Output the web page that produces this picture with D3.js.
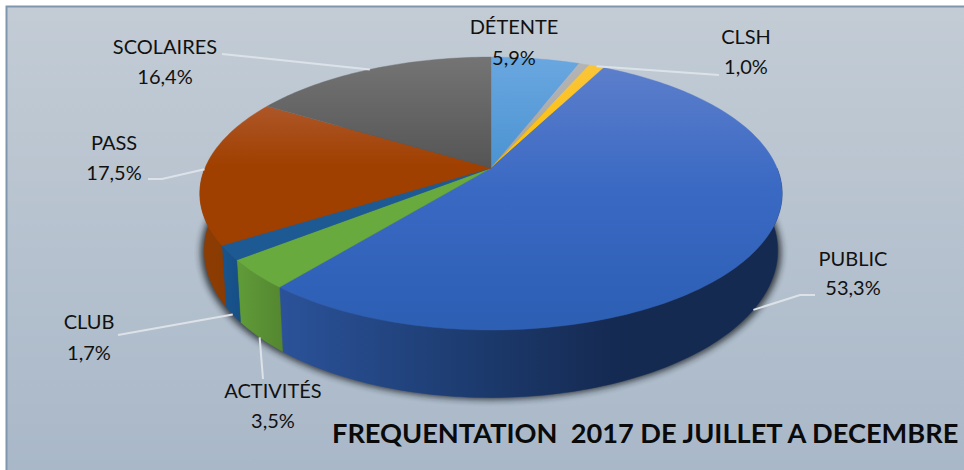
<!DOCTYPE html>
<html><head><meta charset="utf-8">
<style>html,body{margin:0;padding:0;background:#fff}svg{display:block}text{font-family:Lato,"Open Sans",sans-serif;fill:#111}</style>
<script src="https://cdn.jsdelivr.net/npm/d3@7/dist/d3.min.js"></script>
</head><body><svg id="c" width="964" height="470"></svg>
<script>
const categories=["DÉTENTE","AUTRE","CLSH","PUBLIC","ACTIVITÉS","CLUB","PASS","SCOLAIRES"];
const values=[5.9,0.7,1.0,53.3,3.5,1.7,17.5,16.4];
const valueLabels=["5,9%","","1,0%","53,3%","3,5%","1,7%","17,5%","16,4%"];
const topColors=[["#6aa7e0","#4a93d2"],["#b5b5b5","#a5a5a5"],["#f9c53e","#ffc000"],["#5f80cc","#3a69c3","#2d5fb5"],["#6cae42","#68aa3e"],["#1e5c98","#1d5a94"],["#b8694a","#a04000"],["#747474","#555555"]];
const wallColors=[["#3f80b8","#3f80b8"],["#888","#888"],["#c99800","#c99800"],["#2b5299","#1e3e74","#152a52","#142a50"],["#5f9a38","#548630"],["#17538c","#174f85"],["#8e3d02","#7e3602"],["#444","#444"]];
const labelLayout={
 "DÉTENTE":{x:514,y:34,vy:65},
 "CLSH":{x:746,y:44,vy:74,to:[719,75],depth:0},
 "PUBLIC":{x:853,y:266,vy:295,to:[815,295],elbow:[800,295],depth:1},
 "ACTIVITÉS":{x:273,y:398,vy:428,to:[263,379],depth:1},
 "CLUB":{x:89,y:329,vy:360,to:[118,335],depth:1},
 "PASS":{x:114,y:150,vy:180,to:[148,179],elbow:[162,179],depth:0},
 "SCOLAIRES":{x:165,y:54,vy:84,to:[222,54],depth:0}
};
const W=964,H=470,cx=491,cy=168,R=286,V=131.7,K=0.187,D=55,bottomX=0.985;
const svg=d3.select("#c");
const defs=svg.append("defs");
const bg=defs.append("linearGradient").attr("id","bg").attr("x1",0).attr("x2",0).attr("y1",0).attr("y2",1);
bg.append("stop").attr("offset","0%").attr("stop-color","#c3ccd5");
bg.append("stop").attr("offset","100%").attr("stop-color","#a8b7c8");
const blur=defs.append("filter").attr("id","blur").attr("x","-20%").attr("y","-20%").attr("width","140%").attr("height","140%");
blur.append("feGaussianBlur").attr("stdDeviation",3);

const pie=d3.pie().sort(null).value(d=>d).startAngle(0).endAngle(2*Math.PI);
const arcs=pie(values);
function proj(a,depth){
  const X=Math.sin(a),Y=-Math.cos(a),p=1/(1-K*Y);
  const sx=R*X*p*(depth?bottomX:1);
  return [cx+sx, cy+(V*Y+D*depth)*p];
}
const line=d3.line();
const samples=(a0,a1)=>{const n=Math.max(2,Math.ceil((a1-a0)/0.02));return d3.range(n+1).map(i=>a0+(a1-a0)*i/n);};
const addStops=(g,cols)=>cols.forEach((c,k)=>g.append("stop").attr("offset",k/(cols.length-1)).attr("stop-color",c));

svg.append("rect").attr("x",6.5).attr("y",6.5).attr("width",W+10).attr("height",H+10).attr("fill","url(#bg)").attr("stroke","#7f97ad").attr("stroke-width",2);

// shadow
const rim=samples(0,2*Math.PI);
svg.append("path").attr("d",line(rim.map(a=>{const q=proj(a,1);return [cx+(q[0]-cx)*1.012,q[1]+2];}))+"Z").attr("fill","#1c2226").attr("opacity",0.8).attr("filter","url(#blur)");

// gradients
arcs.forEach((d,i)=>{
  const tg=defs.append("linearGradient").attr("id","t"+i).attr("gradientUnits","userSpaceOnUse").attr("x1",0).attr("x2",0).attr("y1",57).attr("y2",i===3?320:(i===6?165:168));
  addStops(tg,topColors[i]);
  const pts=samples(d.startAngle,d.endAngle).map(a=>proj(a,1));
  const wg=defs.append("linearGradient").attr("id","w"+i).attr("gradientUnits","userSpaceOnUse")
    .attr("x1",d3.min(pts,q=>q[0])).attr("x2",d3.max(pts,q=>q[0])+1).attr("y1",0).attr("y2",0);
  addStops(wg,wallColors[i]);
});

// walls: only the part of the rim turned towards the viewer
arcs.forEach((d,i)=>{
  const s=samples(d.startAngle,d.endAngle).filter(a=>-Math.cos(a)>=0);
  if(s.length<2)return;
  const pts=s.map(a=>proj(a,0)).concat(s.slice().reverse().map(a=>proj(a,1)));
  svg.append("path").attr("d",line(pts)+"Z").attr("fill",`url(#w${i})`).attr("stroke",`url(#w${i})`).attr("stroke-width",0.4);
});
// top faces
arcs.forEach((d,i)=>{
  const pts=[[cx,cy]].concat(samples(d.startAngle,d.endAngle).map(a=>proj(a,0)));
  svg.append("path").attr("d",line(pts)+"Z").attr("fill",`url(#t${i})`).attr("stroke",`url(#t${i})`).attr("stroke-width",0.4);
});

// labels
arcs.forEach((d,i)=>{
  const name=categories[i],L=labelLayout[name];
  if(!L)return;
  if(L.to){
    const start=proj((d.startAngle+d.endAngle)/2,L.depth);
    const pts=[start];if(L.elbow)pts.push(L.elbow);pts.push(L.to);
    svg.append("path").attr("d",line(pts)).attr("fill","none").attr("stroke","#dde2e8").attr("stroke-width",2);
  }
  svg.append("text").attr("x",L.x).attr("y",L.y).attr("text-anchor","middle").attr("font-size",20).text(name);
  svg.append("text").attr("x",L.x).attr("y",L.vy).attr("text-anchor","middle").attr("font-size",20).text(valueLabels[i]);
});
svg.append("text").attr("x",332).attr("y",443).attr("font-size",27.2).attr("font-weight",700).style("fill","#0a0a0a").style("white-space","pre").text("FREQUENTATION  2017 DE JUILLET A DECEMBRE");
</script></body></html>
